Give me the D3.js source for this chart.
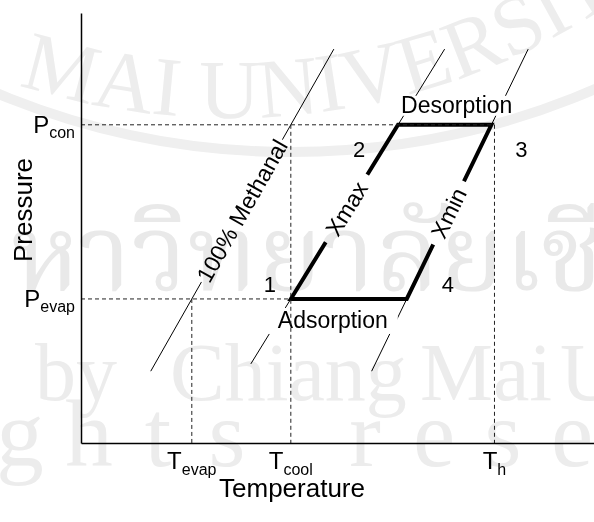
<!DOCTYPE html>
<html>
<head>
<meta charset="utf-8">
<script src="https://cdn.jsdelivr.net/npm/d3@7"></script>
<style>
  html, body { margin: 0; padding: 0; background: #fff; }
  svg { display: block; }
  text { font-family: "Liberation Sans", Arial, sans-serif; fill: #000; }
  .wm text { font-family: "Liberation Serif", "DejaVu Serif", serif; }
  .wm text.thai { font-family: "Noto Serif Thai", "Noto Sans Thai", Loma, Garuda, sans-serif; }
</style>
</head>
<body>
<svg id="chart" width="594" height="522"></svg>
<script>
// schematic units, 0-100 on both axes
const tempNames = ["evap", "cool", "h"];
const tempValues = [21.6, 40.9, 80.6];
const presNames = ["con", "evap"];
const presValues = [74.0, 33.5];

// isosteres (constant concentration lines)
const isoNames = ["100% Methanal", "Xmax", "Xmin"];
const isoTLow = [21.6, 40.9, 63.5];   // temperature at P_evap
const isoTHigh = [40.9, 61.8, 80.0];  // temperature at P_con
const isoPFrom = [16.7, 18.4, 16.7];
const isoPTo = [91.6, 91.6, 91.6];
const isoLabelP = [54.0, 54.5, 53.5];
const isoLabelPad = [2, 10, 9];

// the cycle 1-2-3-4
const cycleStates = ["1", "2", "3", "4"];
const cycleT = [40.9, 61.8, 80.0, 63.5];
const cycleP = [33.5, 74.0, 74.0, 33.5];
const processNames = ["Desorption", "Adsorption"];

const svg = d3.select("#chart");

const x = d3.scaleLinear().domain([0, 100]).range([81, 594]);
const y = d3.scaleLinear().domain([0, 100]).range([443, 13]);

const [Pcon, Pevap] = presValues;
const [Tevap, Tcool, Th] = tempValues;

function isoT(i, p) {
  return isoTLow[i] + (p - Pevap) / (Pcon - Pevap) * (isoTHigh[i] - isoTLow[i]);
}
function isoAngle(i) {
  return Math.atan2(y(Pcon) - y(Pevap), x(isoTHigh[i]) - x(isoTLow[i])) * 180 / Math.PI;
}

// thin isostere lines
const line = d3.line().x(d => x(d[0])).y(d => y(d[1]));
svg.append("g")
  .selectAll("path")
  .data(isoNames.map((n, i) => [[isoT(i, isoPFrom[i]), isoPFrom[i]], [isoT(i, isoPTo[i]), isoPTo[i]]]))
  .join("path")
  .attr("d", line)
  .attr("fill", "none")
  .attr("stroke", "#000")
  .attr("stroke-width", 1);

// thick cycle
const cyclePts = cycleT.map((t, i) => [t, cycleP[i]]);
svg.append("path")
  .attr("d", line(cyclePts) + "Z")
  .attr("fill", "none")
  .attr("stroke", "#000")
  .attr("stroke-width", 4)
  .attr("stroke-linejoin", "miter");

// process labels (with white boxes behind them)
const procPos = [
  [(x(cycleT[1]) + x(cycleT[2])) / 2 + 12, y(Pcon) - 12],
  [(x(cycleT[0]) + x(cycleT[3])) / 2 - 16, y(Pevap) + 29]
];
const procG = svg.append("g");
processNames.forEach((name, i) => {
  const g = procG.append("g");
  const bg = g.append("rect").attr("fill", "#fff");
  const t = g.append("text")
    .attr("x", procPos[i][0])
    .attr("y", procPos[i][1])
    .attr("text-anchor", "middle")
    .attr("font-size", 23)
    .text(name);
  const b = t.node().getBBox();
  const padY = i === 0 ? 0 : 3;
  bg.attr("x", b.x - 10).attr("y", b.y + 4 - padY)
    .attr("width", b.width + 20).attr("height", b.height - 6 + 2 * padY);
});

// isostere labels along the lines
isoNames.forEach((name, i) => {
  const p = isoLabelP[i];
  const g = svg.append("g")
    .attr("transform", `translate(${x(isoT(i, p))},${y(p)}) rotate(${isoAngle(i)})`);
  const bg = g.append("rect").attr("fill", "#fff");
  const t = g.append("text")
    .attr("text-anchor", "middle")
    .attr("dy", "0.36em")
    .attr("font-size", 23)
    .text(name);
  const b = t.node().getBBox();
  bg.attr("x", b.x - isoLabelPad[i]).attr("y", -8)
    .attr("width", b.width + 2 * isoLabelPad[i]).attr("height", 16);
});

// dashed guide lines
const guides = [
  [[0, Pcon], [Th, Pcon]],
  [[0, Pevap], [Tcool, Pevap]],
  [[Tevap, Pevap], [Tevap, 0]],
  [[Tcool, Pcon], [Tcool, 0]],
  [[Th, Pcon], [Th, 0]]
];
svg.append("g")
  .selectAll("path")
  .data(guides)
  .join("path")
  .attr("d", line)
  .attr("fill", "none")
  .attr("stroke", "#222")
  .attr("stroke-width", 1)
  .attr("stroke-dasharray", "4,3");

// state numbers
const stateOff = [[-21, -7], [-39, 32], [30, 32], [41, -7]];
svg.append("g")
  .selectAll("text")
  .data(cycleStates)
  .join("text")
  .attr("x", (d, i) => x(cycleT[i]) + stateOff[i][0])
  .attr("y", (d, i) => y(cycleP[i]) + stateOff[i][1])
  .attr("text-anchor", "middle")
  .attr("font-size", 22)
  .text(d => d);

// axes (domain lines only)
svg.append("g")
  .attr("transform", `translate(0,${y(0)})`)
  .call(d3.axisBottom(x).ticks(0).tickSizeOuter(0))
  .call(g => g.select(".domain").attr("stroke-width", 1.5));
svg.append("g")
  .attr("transform", `translate(${x(0)},0)`)
  .call(d3.axisLeft(y).ticks(0).tickSizeOuter(0))
  .call(g => g.select(".domain").attr("stroke-width", 1.5));

// temperature tick labels
tempNames.forEach((n, i) => {
  const t = svg.append("text")
    .attr("x", x(tempValues[i]))
    .attr("y", y(0) + 26)
    .attr("text-anchor", "middle")
    .attr("font-size", 24);
  t.append("tspan").text("T");
  t.append("tspan").attr("font-size", 16).attr("dy", 6).text(n);
});

// pressure tick labels
presNames.forEach((n, i) => {
  const t = svg.append("text")
    .attr("x", 75)
    .attr("y", y(presValues[i]) + 8)
    .attr("text-anchor", "end")
    .attr("font-size", 24);
  t.append("tspan").text("P");
  t.append("tspan").attr("font-size", 16).attr("dy", 5).text(n);
});

// axis titles
svg.append("text")
  .attr("x", 292).attr("y", 497)
  .attr("text-anchor", "middle")
  .attr("font-size", 26)
  .text("Temperature");
svg.append("text")
  .attr("transform", "translate(32,210) rotate(-90)")
  .attr("text-anchor", "middle")
  .attr("font-size", 26)
  .text("Pressure");

// faint university watermark on top
const wm = svg.append("g").attr("class", "wm").style("mix-blend-mode", "multiply");
wm.append("circle")
  .attr("cx", 291).attr("cy", -613).attr("r", 765)
  .attr("fill", "none").attr("stroke", "#efefef").attr("stroke-width", 10);
wm.append("path")
  .attr("id", "wmArc")
  .attr("d", "M -200 -32 A 692 692 0 0 0 700 -66")
  .attr("fill", "none");
wm.append("text")
  .attr("font-size", 84)
  .style("fill", "#ededed")
  .append("textPath")
  .attr("href", "#wmArc")
  .attr("startOffset", 249)
  .text("MAI UNIVERSITY");
wm.append("text")
  .attr("class", "thai")
  .attr("x", -60).attr("y", 290)
  .attr("font-size", 108)
  .style("fill", "#e9e9e9")
  .text("มหาวิทยาลัยเชียงใหม่");
const byWords = ["by", "Chiang", "Mai", "University"];
const byX = [35, 170, 420, 560];
wm.append("g")
  .selectAll("text")
  .data(byWords)
  .join("text")
  .attr("x", (d, i) => byX[i])
  .attr("y", 400)
  .attr("font-size", 82)
  .style("fill", "#ececec")
  .text(d => d);
const rights = "All rights reserved".split("");
wm.append("g")
  .selectAll("text")
  .data(rights)
  .join("text")
  .attr("x", (d, i) => 20 + (i - 6) * 69)
  .attr("y", 466)
  .attr("text-anchor", "middle")
  .attr("font-size", 95)
  .style("fill", "#ececec")
  .text(d => d);
</script>
</body>
</html>
